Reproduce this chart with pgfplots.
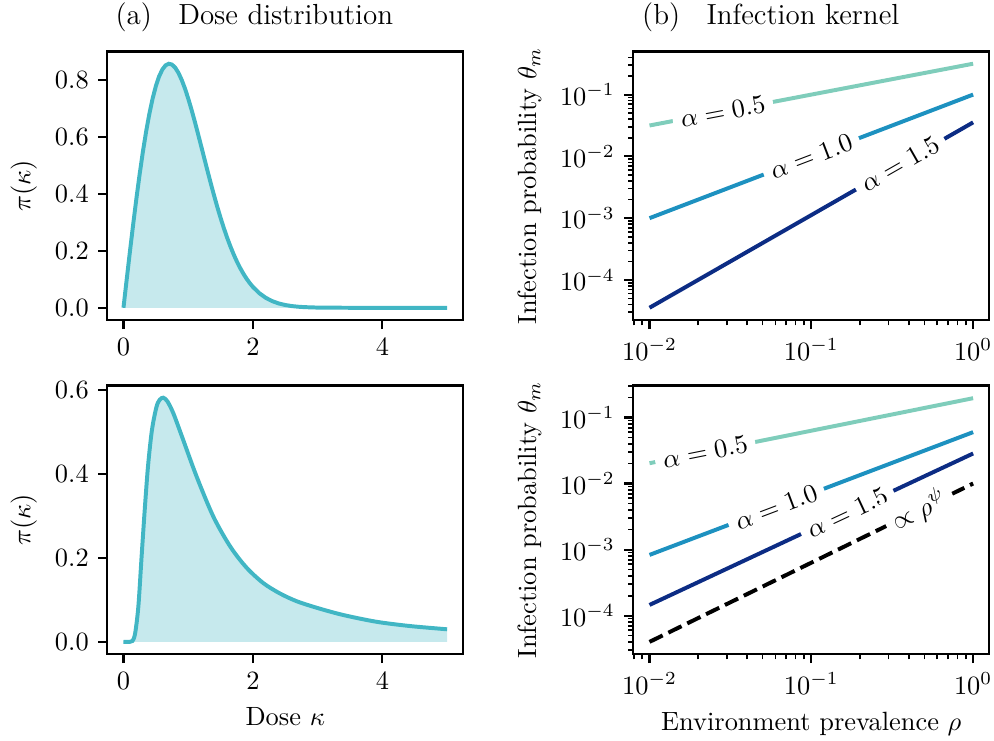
\documentclass[border=0pt]{standalone}
\usepackage{pgfplots}
\pgfplotsset{compat=1.18}

\definecolor{dose}{HTML}{41B6C4}
\definecolor{aone}{HTML}{7FCDBB}
\definecolor{atwo}{HTML}{1D91C0}
\definecolor{athree}{HTML}{0C2C84}

\tikzset{lbl/.style={fill=white, inner sep=3pt, font=\normalsize}}

\pgfplotsset{
  panel/.style={
    scale only axis, width=134.85pt, height=101.70pt, anchor=south west,
    axis line style={line width=0.8pt}, tick align=outside, tick pos=left,
    major tick length=3.5pt, minor tick length=2pt,
    tick style={black, line width=0.8pt}, minor tick style={line width=0.6pt},
    label style={font=\normalsize}, tick label style={font=\normalsize},
  },
  dosepanel/.style={panel, xmin=-0.25, xmax=5.25, xtick={0,2,4},
    yticklabel style={/pgf/number format/fixed, /pgf/number format/fixed zerofill,
      /pgf/number format/precision=1},
    ylabel={$\pi(\kappa)$}},
  kernelpanel/.style={panel, xmin=0.00794, xmax=1.2589,
    xtick={0.01,0.1,1},
    minor xtick={0.008,0.009,0.02,0.03,0.04,0.05,0.06,0.07,0.08,0.09,0.2,0.3,0.4,0.5,0.6,0.7,0.8,0.9},
    ytick={1e-4,1e-3,1e-2,1e-1},
    ylabel={Infection probability $\theta_m$}},
}

\begin{document}
\begin{tikzpicture}
\useasboundingbox (0,0) rectangle (376.52pt,280.68pt);

\node[anchor=base west, inner sep=0pt, font=\fontsize{11}{13}\selectfont] at (43.56pt,271.21pt) {(a)\hspace{10pt}Dose distribution};
\node[anchor=base west, inner sep=0pt, font=\fontsize{11}{13}\selectfont] at (243.07pt,271.21pt) {(b)\hspace{10pt}Infection kernel};

% (a) top: dose distribution
\begin{axis}[dosepanel, at={(40.64pt,159.47pt)}, ymin=-0.0429, ymax=0.9007,
  ytick={0,0.2,0.4,0.6,0.8}]
  \addplot[draw=none, fill=dose, fill opacity=0.3] coordinates {
    (0,0) (0.05,0.0998) (0.1,0.198) (0.15,0.2933) (0.2,0.3843) (0.25,0.4697)
    (0.3,0.5483) (0.35,0.6193) (0.4,0.6817) (0.45,0.7350) (0.5,0.7788)
    (0.55,0.8129) (0.6,0.8372) (0.65,0.8520) (0.7,0.8577) (0.75,0.8547)
    (0.8,0.8437) (0.85,0.8254) (0.9,0.8008) (0.95,0.7706) (1.0,0.7358)
    (1.05,0.6974) (1.1,0.6561) (1.15,0.6129) (1.2,0.5686) (1.25,0.5240)
    (1.3,0.4798) (1.35,0.4363) (1.4,0.3944) (1.45,0.3541) (1.5,0.3162)
    (1.55,0.2805) (1.6,0.2473) (1.65,0.2169) (1.7,0.1890) (1.75,0.1637)
    (1.8,0.1410) (1.85,0.1207) (1.9,0.1028) (1.95,0.0870) (2.0,0.0733)
    (2.1,0.0511) (2.2,0.0348) (2.3,0.0232) (2.4,0.0151) (2.5,0.0097)
    (2.6,0.0060) (2.7,0.0037) (2.8,0.0022) (3.0,0.0007) (3.5,0.0000)
    (4.0,0) (5.0,0)
  } \closedcycle;
  \addplot[dose, line width=1.5pt] coordinates {
    (0,0) (0.05,0.0998) (0.1,0.198) (0.15,0.2933) (0.2,0.3843) (0.25,0.4697)
    (0.3,0.5483) (0.35,0.6193) (0.4,0.6817) (0.45,0.7350) (0.5,0.7788)
    (0.55,0.8129) (0.6,0.8372) (0.65,0.8520) (0.7,0.8577) (0.75,0.8547)
    (0.8,0.8437) (0.85,0.8254) (0.9,0.8008) (0.95,0.7706) (1.0,0.7358)
    (1.05,0.6974) (1.1,0.6561) (1.15,0.6129) (1.2,0.5686) (1.25,0.5240)
    (1.3,0.4798) (1.35,0.4363) (1.4,0.3944) (1.45,0.3541) (1.5,0.3162)
    (1.55,0.2805) (1.6,0.2473) (1.65,0.2169) (1.7,0.1890) (1.75,0.1637)
    (1.8,0.1410) (1.85,0.1207) (1.9,0.1028) (1.95,0.0870) (2.0,0.0733)
    (2.1,0.0511) (2.2,0.0348) (2.3,0.0232) (2.4,0.0151) (2.5,0.0097)
    (2.6,0.0060) (2.7,0.0037) (2.8,0.0022) (3.0,0.0007) (3.5,0.0000)
    (4.0,0) (5.0,0)
  };
\end{axis}

% (a) bottom
\begin{axis}[dosepanel, at={(40.64pt,32.95pt)}, ymin=-0.0291, ymax=0.611,
  ytick={0,0.2,0.4,0.6}, xlabel={Dose $\kappa$}]
  \addplot[draw=none, fill=dose, fill opacity=0.3, smooth] coordinates {
    (0,0) (0.10,0) (0.14,0.002) (0.18,0.02) (0.23,0.084) (0.28,0.203)
    (0.33,0.318) (0.38,0.42) (0.44,0.505) (0.51,0.560) (0.56,0.577)
    (0.615,0.582) (0.68,0.573) (0.77,0.545) (0.90,0.491) (1.13,0.394)
    (1.39,0.298) (1.65,0.227) (1.90,0.177) (2.16,0.140) (2.42,0.115)
    (2.68,0.0965) (3.01,0.080) (3.40,0.0637) (3.91,0.0477) (4.43,0.0375)
    (5.0,0.0298)
  } \closedcycle;
  \addplot[dose, line width=1.5pt, smooth] coordinates {
    (0,0) (0.10,0) (0.14,0.002) (0.18,0.02) (0.23,0.084) (0.28,0.203)
    (0.33,0.318) (0.38,0.42) (0.44,0.505) (0.51,0.560) (0.56,0.577)
    (0.615,0.582) (0.68,0.573) (0.77,0.545) (0.90,0.491) (1.13,0.394)
    (1.39,0.298) (1.65,0.227) (1.90,0.177) (2.16,0.140) (2.42,0.115)
    (2.68,0.0965) (3.01,0.080) (3.40,0.0637) (3.91,0.0477) (4.43,0.0375)
    (5.0,0.0298)
  };
\end{axis}

% (b) top: infection kernel
\begin{loglogaxis}[kernelpanel, at={(239.89pt,159.47pt)}, ymin=2.25e-5, ymax=0.498,
  minor ytick={3e-5,4e-5,5e-5,6e-5,7e-5,8e-5,9e-5,2e-4,3e-4,4e-4,5e-4,6e-4,7e-4,8e-4,9e-4,
    2e-3,3e-3,4e-3,5e-3,6e-3,7e-3,8e-3,9e-3,0.02,0.03,0.04,0.05,0.06,0.07,0.08,0.09,0.2,0.3,0.4}]
  \addplot[aone, line width=1.5pt] coordinates {(0.01,0.0316) (1,0.316)};
  \addplot[atwo, line width=1.5pt] coordinates {(0.01,0.001) (1,0.1)};
  \addplot[athree, line width=1.5pt] coordinates {(0.01,3.55e-5) (1,0.0355)};
  \node[lbl, rotate=10.8] at (axis cs:0.0284,0.0533) {$\alpha = 0.5$};
  \node[lbl, rotate=20.9] at (axis cs:0.1,0.01) {$\alpha = 1.0$};
  \node[lbl, rotate=29.75] at (axis cs:0.354,0.00748) {$\alpha = 1.5$};
\end{loglogaxis}

% (b) bottom
\begin{loglogaxis}[kernelpanel, at={(239.89pt,32.95pt)}, ymin=2.62e-5, ymax=0.305,
  xlabel={Environment prevalence $\rho$},
  minor ytick={3e-5,4e-5,5e-5,6e-5,7e-5,8e-5,9e-5,2e-4,3e-4,4e-4,5e-4,6e-4,7e-4,8e-4,9e-4,
    2e-3,3e-3,4e-3,5e-3,6e-3,7e-3,8e-3,9e-3,0.02,0.03,0.04,0.05,0.06,0.07,0.08,0.09,0.2,0.3}]
  \addplot[aone, line width=1.5pt] coordinates {(0.01,0.0203) (1,0.196)};
  \addplot[atwo, line width=1.5pt] coordinates {(0.01,0.00083) (1,0.06)};
  \addplot[athree, line width=1.5pt] coordinates {(0.01,0.000145) (1,0.0285)};
  \addplot[black, line width=1.5pt, dash pattern=on 5.55pt off 2.4pt] coordinates {(0.01,4e-5) (1,0.01)};
  \node[lbl, rotate=11.3] at (axis cs:0.02208,0.03003) {$\alpha = 0.5$};
  \node[lbl, rotate=20.7] at (axis cs:0.0607,0.00443) {$\alpha = 1.0$};
  \node[lbl, rotate=25.0] at (axis cs:0.1667,0.003651) {$\alpha = 1.5$};
  \node[lbl, rotate=26.0] at (axis cs:0.4645,0.00398) {$\propto \rho^{\psi}$};
\end{loglogaxis}
\end{tikzpicture}
\end{document}
